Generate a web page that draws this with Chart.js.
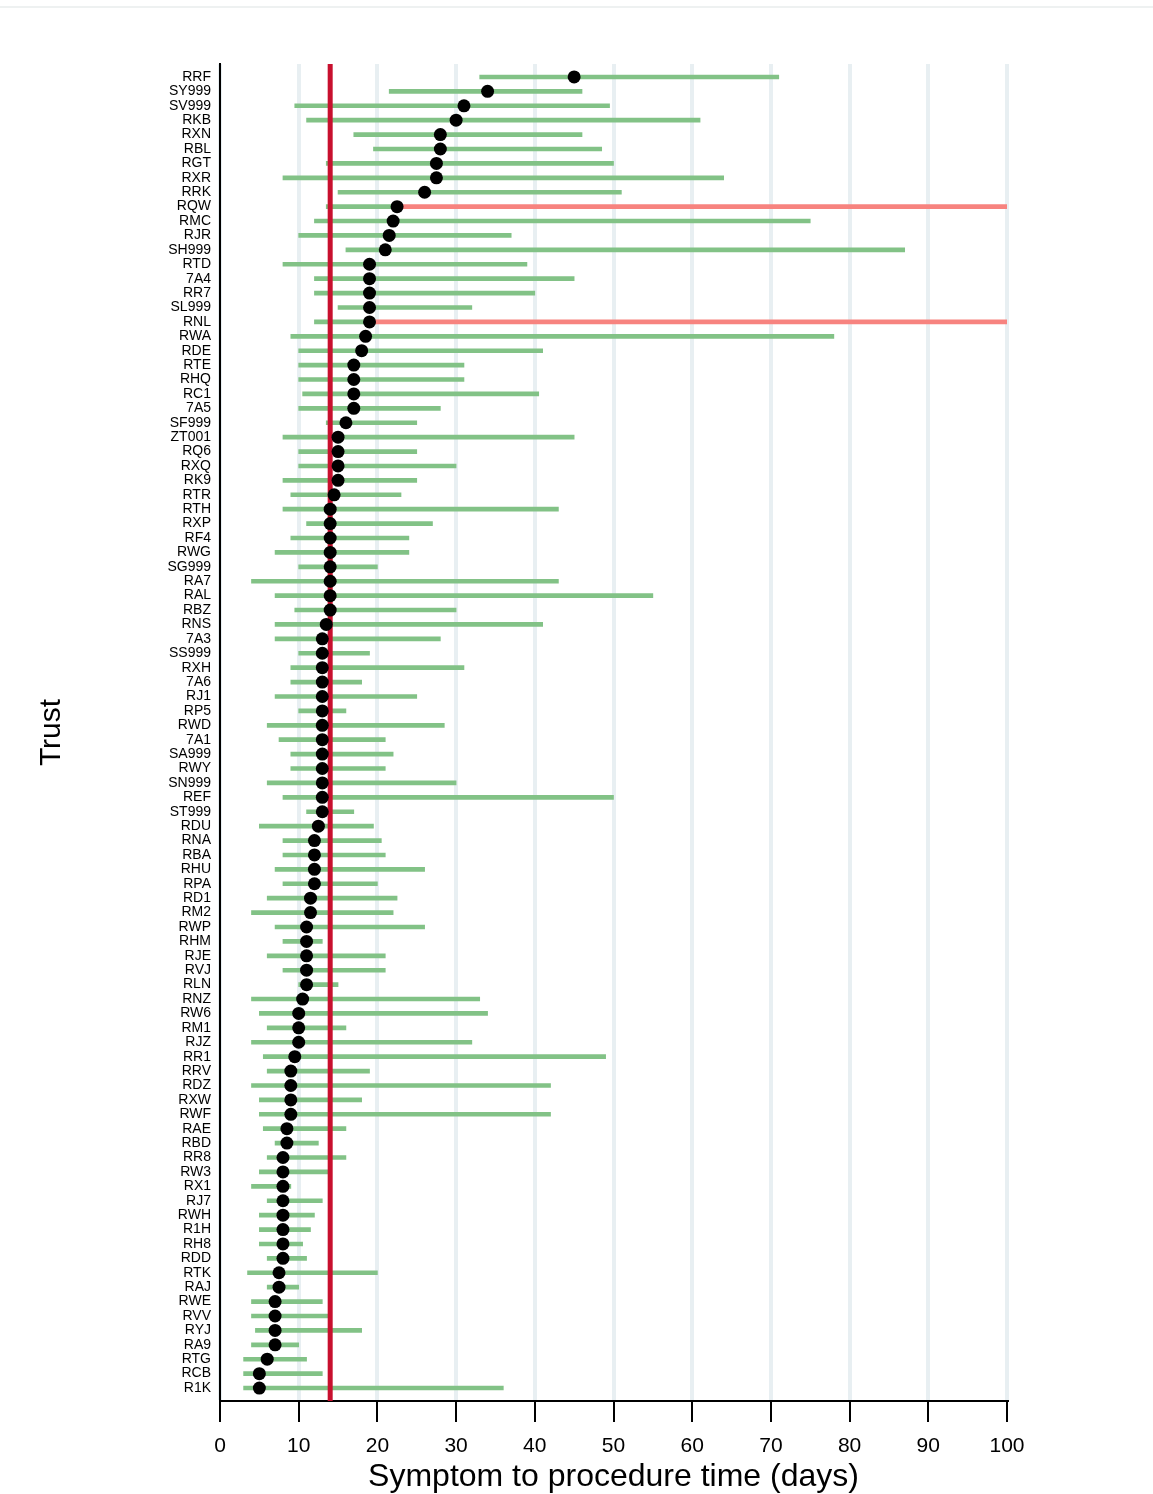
<!DOCTYPE html>
<html>
<head>
<meta charset="utf-8">
<script src="https://cdn.jsdelivr.net/npm/chart.js@4.4.1/dist/chart.umd.min.js"></script>
<style>
  html, body { margin: 0; padding: 0; background: #ffffff; }
  #wrap { position: relative; width: 1153px; height: 1494px; }
  #topline { position: absolute; left: 0; top: 6px; width: 1153px; height: 0; border-top: 2px solid #eef1f1; }
  canvas { position: absolute; left: 0; top: 0; }
</style>
</head>
<body>
<div id="wrap">
  <div id="topline"></div>
  <canvas id="c" width="1153" height="1494"></canvas>
</div>
<script>
// Trusts, top to bottom
const trusts = ["RRF","SY999","SV999","RKB","RXN","RBL","RGT","RXR","RRK","RQW","RMC","RJR","SH999","RTD","7A4","RR7","SL999","RNL","RWA","RDE","RTE","RHQ","RC1","7A5","SF999","ZT001","RQ6","RXQ","RK9","RTR","RTH","RXP","RF4","RWG","SG999","RA7","RAL","RBZ","RNS","7A3","SS999","RXH","7A6","RJ1","RP5","RWD","7A1","SA999","RWY","SN999","REF","ST999","RDU","RNA","RBA","RHU","RPA","RD1","RM2","RWP","RHM","RJE","RVJ","RLN","RNZ","RW6","RM1","RJZ","RR1","RRV","RDZ","RXW","RWF","RAE","RBD","RR8","RW3","RX1","RJ7","RWH","R1H","RH8","RDD","RTK","RAJ","RWE","RVV","RYJ","RA9","RTG","RCB","R1K"];

// Median symptom-to-procedure time (days)
const medians = [45,34,31,30,28,28,27.5,27.5,26,22.5,22,21.5,21,19,19,19,19,19,18.5,18,17,17,17,17,16,15,15,15,15,14.5,14,14,14,14,14,14,14,14,13.5,13,13,13,13,13,13,13,13,13,13,13,13,13,12.5,12,12,12,12,11.5,11.5,11,11,11,11,11,10.5,10,10,10,9.5,9,9,9,9,8.5,8.5,8,8,8,8,8,8,8,8,7.5,7.5,7,7,7,7,6,5,5];

// Lower interval limit
const lowers = [33,21.5,9.5,11,17,19.5,13.5,8,15,13.5,12,10,16,8,12,12,15,12,9,10,10,10,10.5,10,13.5,8,10,10,8,9,8,11,9,7,10,4,7,9.5,7,7,10,9,9,7,10,6,7.5,9,9,6,8,11,5,8,8,7,8,6,4,7,8,6,8,10,4,5,6,4,5.5,6,4,5,5,5.5,7,6,5,4,6,5,5,5,6,3.5,6,4,4,4.5,4,3,3,3];

// Upper interval limit (null = open-ended, beyond the axis)
const uppers = [71,46,49.5,61,46,48.5,50,64,51,null,75,37,87,39,45,40,32,null,78,41,31,31,40.5,28,25,45,25,30,25,23,43,27,24,24,20,43,55,30,41,28,19,31,18,25,16,28.5,21,22,21,30,50,17,19.5,20.5,21,26,20,22.5,22,26,13,21,21,15,33,34,16,32,49,19,42,18,42,16,12.5,16,14,9,13,12,11.5,10.5,11,20,10,13,14,18,10,11,13,36];

// Overall median reference line
const overallMedian = 14;

// x-axis tick values
const xTicks = [0,10,20,30,40,50,60,70,80,90,100];
const xMin = xTicks[0], xMax = xTicks[xTicks.length - 1];

const yMin = -0.9, yMax = trusts.length - 1 + 0.9;

const greenBars = trusts.map((t, i) => ({ y: i, x: [lowers[i], uppers[i] === null ? medians[i] : uppers[i]] }));
const redBars = trusts.map((t, i) => uppers[i] === null ? { y: i, x: [medians[i], xMax] } : null).filter(d => d);
const dots = trusts.map((t, i) => ({ x: medians[i], y: i }));
const medLine = [{ x: overallMedian, y: yMin }, { x: overallMedian, y: yMax }];

const FONT = "'Liberation Sans', Arial, Helvetica, sans-serif";

new Chart(document.getElementById('c'), {
  type: 'bar',
  data: {
    datasets: [
      { type: 'bar', indexAxis: 'y', data: greenBars, backgroundColor: '#82c286', barThickness: 4, grouped: false, order: 3, borderWidth: 0 },
      { type: 'bar', indexAxis: 'y', data: redBars, backgroundColor: '#f7837f', barThickness: 4, grouped: false, order: 2, borderWidth: 0 },
      { type: 'line', data: medLine, borderColor: '#c8102e', borderWidth: 5, pointRadius: 0, fill: false, order: 1 },
      { type: 'scatter', data: dots, backgroundColor: '#000000', borderColor: '#000000', pointRadius: 6.5, borderWidth: 0, order: 0 }
    ]
  },
  options: {
    responsive: false,
    animation: false,
    devicePixelRatio: 1,
    layout: { padding: { top: 64, right: 146, left: 0, bottom: 0 } },
    plugins: { legend: { display: false }, tooltip: { enabled: false } },
    events: [],
    scales: {
      x: {
        type: 'linear',
        position: 'bottom',
        offset: false,
        min: xMin, max: xMax,
        afterBuildTicks: (s) => { s.ticks = xTicks.map(v => ({ value: v })); },
        afterFit: (s) => { s.height = 93; },
        grid: { offset: false, color: '#e8eff2', lineWidth: 4, drawTicks: true, tickLength: 21, tickColor: '#000000', tickWidth: 2 },
        border: { display: true, color: '#000000', width: 2 },
        ticks: { color: '#000000', font: { family: FONT, size: 21 }, padding: 12, maxRotation: 0, autoSkip: false },
        title: { display: true, text: 'Symptom to procedure time (days)', color: '#000000', font: { family: FONT, size: 32, lineHeight: 1.05 }, padding: 0 }
      },
      y: {
        type: 'linear',
        position: 'left',
        offset: false,
        reverse: true,
        min: yMin, max: yMax,
        afterBuildTicks: (s) => { s.ticks = trusts.map((t, i) => ({ value: i })); },
        afterFit: (s) => { s.width = 220; },
        grid: { offset: false, display: false, drawTicks: false },
        border: { display: true, color: '#000000', width: 2 },
        ticks: { color: '#000000', font: { family: FONT, size: 14, lineHeight: 1 }, padding: 9, autoSkip: false, callback: (v) => trusts[v] },
        title: { display: true, text: 'Trust', color: '#000000', font: { family: FONT, size: 30, lineHeight: 1.1 }, padding: { top: 35, bottom: 0 } }
      }
    }
  }
});
</script>
</body>
</html>
